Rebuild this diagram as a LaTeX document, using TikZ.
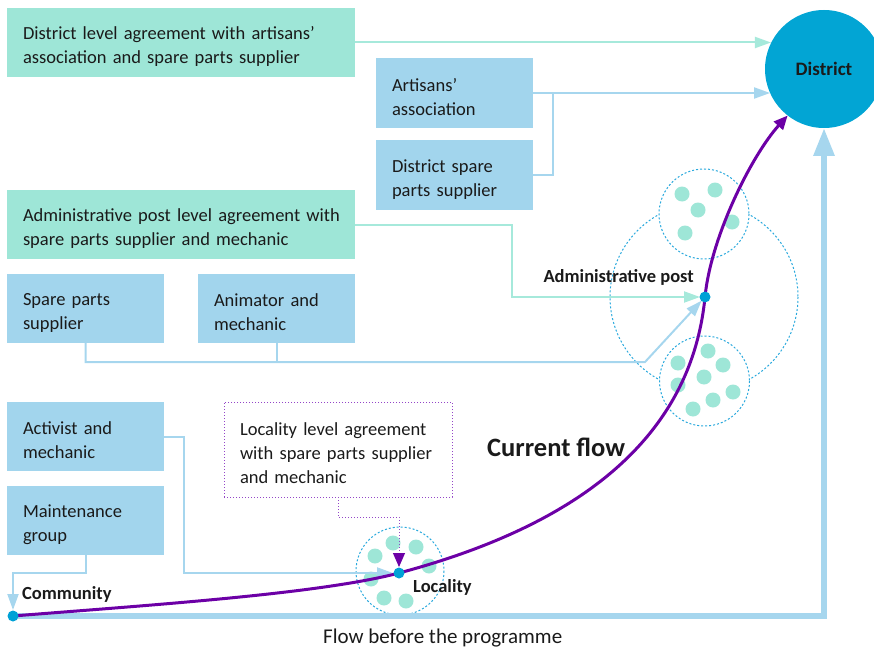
\documentclass[tikz,border=0pt]{standalone}
\usepackage{fontspec}
\setmainfont{Carlito}
\usetikzlibrary{arrows.meta,calc}
\definecolor{agreen}{HTML}{9EE6D7}
\definecolor{ablue}{HTML}{A2D5ED}
\definecolor{lgreen}{HTML}{A6E9DB}
\definecolor{lblue}{HTML}{A6D6EE}
\definecolor{distc}{HTML}{02A5D4}
\definecolor{dotc}{HTML}{00A1D6}
\definecolor{circc}{HTML}{2AA9DD}
\definecolor{apurple}{HTML}{6C00A6}
\definecolor{lpurple}{HTML}{9446C8}
\definecolor{txt}{HTML}{1A1A1A}
\tikzset{
  box/.style={rectangle, anchor=north west, inner xsep=16pt, inner ysep=0pt, outer sep=0pt,
    align=left, font=\fontsize{18.5}{24}\selectfont, text=txt,
    execute at begin node={\rule{0pt}{21pt}}},
  gbox/.style={box, fill=agreen, minimum width=348pt, minimum height=69pt, text width=316pt},
  bbox/.style={box, fill=ablue, minimum width=157pt, minimum height=70pt, text width=125pt},
  gline/.style={draw=lgreen, line width=2pt},
  bline/.style={draw=lblue, line width=2pt},
  gtip/.style={-{Triangle[length=16pt,width=11pt]}},
  dcirc/.style={draw=circc, line width=1pt, dash pattern=on 2pt off 2pt},
  gdot/.style={fill=agreen},
  ptdot/.style={circle, fill=dotc, minimum size=11pt, inner sep=0pt},
  lbl/.style={font=\fontsize{18.5}{22}\selectfont\bfseries, text=txt, inner sep=0pt},
}
\begin{document}
\begin{tikzpicture}[x=1pt,y=-1pt]
\useasboundingbox (0,0) rectangle (874,647);

% points of the flow
\coordinate (comm) at (13,616);
\coordinate (loc) at (399,573);
\coordinate (admin) at (705,297);

% dotted circles (administrative post, locality)
\draw[dcirc] (704,297) circle (94);
\draw[dcirc, fill=white] (704,214) circle (45);
\draw[dcirc, fill=white] (704.5,381) circle (45);
\draw[dcirc] (400,571) circle (44);

% population dots
\foreach \p in {(682,194),(715,190),(698,210),(732,222),(685,233),
                (678,363),(708,351),(723,365),(678,385),(704,377),(733,392),(713,400),(693,409),
                (375,556),(393,543),(416,547),(429,566),(371,579),(384,598),(406,601)}
  \fill[gdot] \p circle (7.5);

% boxes
\node[gbox] (g1) at (7,8) {\mbox{District level agreement with artisans’}\\\mbox{association and spare parts supplier}};
\node[bbox] (art) at (376,58) {Artisans’\\association};
\node[bbox] (dsp) at (376,140) {District spare\\parts supplier};
\node[gbox] (g2) at (7,190) {\mbox{Administrative post level agreement with}\\\mbox{spare parts supplier and mechanic}};
\node[bbox, minimum height=69pt] (sps) at (7,274) {Spare parts\\supplier};
\node[bbox, minimum height=69pt] (anim) at (198,274) {Animator and\\mechanic};
\node[bbox, minimum height=69pt] (act) at (7,402) {Activist and\\mechanic};
\node[bbox, minimum height=69pt] (maint) at (7,486) {Maintenance\\group};
\node[box, draw=lpurple, line width=1pt, dash pattern=on 1pt off 2pt, minimum width=228pt,
      minimum height=95pt, text width=196pt] (la) at (224,402)
      {\mbox{Locality level agreement}\\\mbox{with spare parts supplier}\\\mbox{and mechanic}};

% district
\node[circle, fill=distc, minimum size=118pt, inner sep=0pt, outer sep=0pt,
      font=\fontsize{19}{22}\selectfont\bfseries, text=txt] (district) at (824,69) {District};

% connectors to district
\draw[gline, gtip] (g1.east) -- (g1.east -| district.154);
\draw[bline, gtip] (art.east) -- (art.east -| district.204);
\draw[bline] (dsp.east) -| ($(art.east)+(20,0)$);

% connectors to administrative post
\coordinate (g2bend) at (512,297);
\draw[gline, gtip, shorten >=5pt] (g2.east) -| (g2bend) -- (admin);
\coordinate (apbend) at (645,362);
\draw[bline, gtip, shorten >=5pt] (sps.south) |- (apbend) -- (admin);
\draw[bline] (anim.south) -- (anim.south |- apbend);

% connectors to locality and community
\draw[bline, gtip, shorten >=6pt] (act.east) -- ++(20,0) |- (loc);
\draw[bline, gtip, shorten >=6pt] (maint.south) |- (comm |- loc) -- (comm);
\draw[draw=lpurple, line width=1pt, dash pattern=on 1pt off 2pt,
      -{Triangle[length=14pt,width=12pt,fill=apurple,color=apurple]}, shorten >=6pt]
      (la.south) -- ++(0,20) -| (loc);

% flow before the programme
\draw[draw=lblue, line width=6pt, line join=miter, -{Triangle[length=28pt,width=20pt]}]
  (comm) -| (district.south);

% current flow
\draw[apurple, line width=3pt, -{Triangle[length=14pt,width=12pt]}]
  (comm) .. controls (150,605) and (319,594) .. (loc)
         .. controls (560,530) and (690,450) .. (admin)
         .. controls (711,236) and (752,155) .. (district.232);

% dots
\node[ptdot] (commdot) at (comm) {};
\node[ptdot] (locdot) at (loc) {};
\node[ptdot] (admindot) at (admin) {};

% labels
\node[lbl, anchor=base west] (commlbl) at (22,599) {Community};
\node[lbl, anchor=base west] (loclbl) at (413,592) {Locality};
\node[lbl, anchor=base east] (adminlbl) at (694,282) {Administrative post};
\node[lbl, font=\fontsize{26.5}{30}\selectfont\bfseries, anchor=base west] (curlbl) at (487,456) {Current flow};
\node[font=\fontsize{21}{24}\selectfont, text=txt, inner sep=0pt, anchor=base west] (beflbl) at (323,643) {Flow before the programme};
\end{tikzpicture}
\end{document}
